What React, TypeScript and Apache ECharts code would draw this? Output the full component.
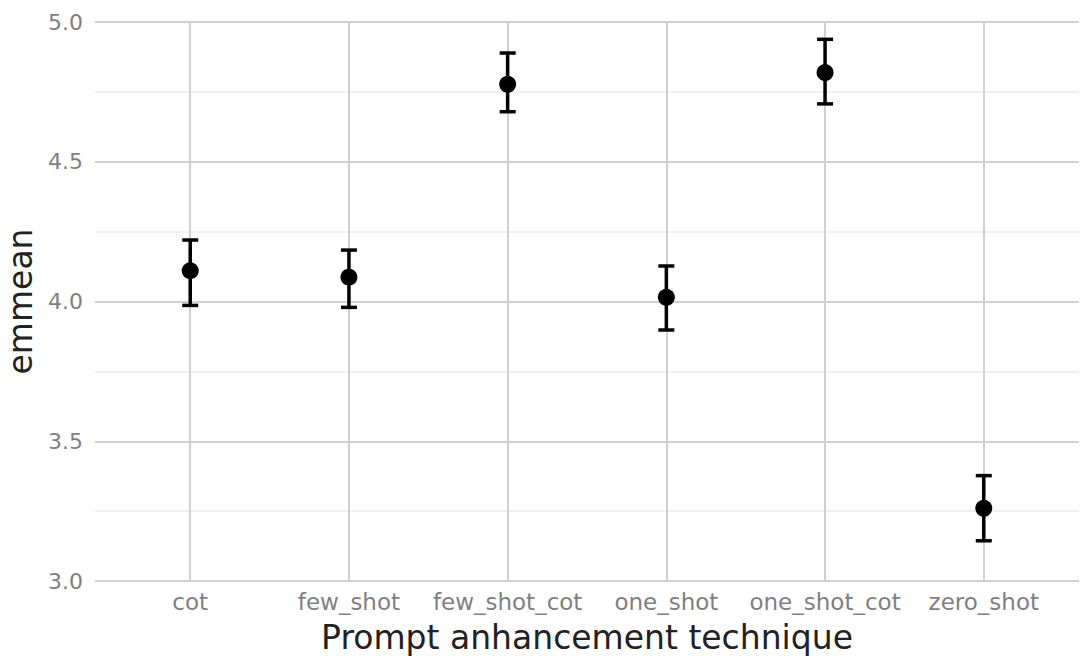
import React, { useEffect, useRef } from "react";
import * as echarts from "echarts";

const categories = ["cot", "few_shot", "few_shot_cot", "one_shot", "one_shot_cot", "zero_shot"];
const emmeans = [4.11, 4.087, 4.777, 4.015, 4.819, 3.26];
const lowerCL = [3.986, 3.979, 4.679, 3.898, 4.707, 3.144];
const upperCL = [4.22, 4.184, 4.889, 4.127, 4.938, 3.377];
const yTicks = [3.0, 3.5, 4.0, 4.5, 5.0];

export default function App() {
  const ref = useRef<HTMLDivElement>(null);
  useEffect(() => {
    if (!ref.current) return;
    const chart = echarts.init(ref.current, null, { renderer: "svg" });
    const idx = categories.map((_, i) => i);
    const font = "DejaVu Sans";
    chart.setOption({
      animation: false,
      backgroundColor: "#ffffff",
      grid: { left: 95, right: 10, top: 22, bottom: 83, containLabel: false, outerBoundsMode: "none" },
      xAxis: {
        type: "value",
        min: -0.6,
        max: 5.6,
        name: "Prompt anhancement technique",
        nameLocation: "middle",
        nameGap: 40,
        nameTextStyle: { fontFamily: font, fontSize: 33, color: "#222222" },
        axisLine: { show: false },
        axisTick: { show: false, customValues: idx },
        axisLabel: {
          customValues: idx,
          formatter: (v: number) => categories[Math.round(v)] ?? "",
          fontFamily: font,
          fontSize: 23,
          color: "#7f7f7f",
          margin: 9,
        },
        splitLine: { show: true, lineStyle: { color: "#d0d0d0", width: 2 } },
      },
      yAxis: {
        type: "value",
        min: 3,
        max: 5,
        interval: 0.5,
        name: "emmean",
        nameLocation: "middle",
        nameGap: 56,
        nameTextStyle: { fontFamily: font, fontSize: 33, color: "#222222" },
        axisLine: { show: false },
        axisTick: { show: false },
        axisLabel: {
          formatter: (v: number) => (yTicks.includes(v) ? v.toFixed(1) : ""),
          fontFamily: font,
          fontSize: 22,
          color: "#7f7f7f",
          margin: 12,
        },
        splitLine: { show: true, lineStyle: { color: "#d0d0d0", width: 2 } },
        minorTick: { show: false, splitNumber: 2 },
        minorSplitLine: { show: true, lineStyle: { color: "#ebebeb", width: 1.5 } },
      },
      series: [
        {
          type: "custom",
          data: idx.map((i) => [i, lowerCL[i], upperCL[i]]),
          encode: { x: 0, y: [1, 2] },
          renderItem: (params: any, api: any) => {
            const x = api.value(0);
            const lo = api.coord([x, api.value(1)]);
            const hi = api.coord([x, api.value(2)]);
            const half = 8;
            const style = { stroke: "#000000", lineWidth: 3.5, fill: "none" };
            return {
              type: "group",
              children: [
                { type: "line", shape: { x1: lo[0], y1: lo[1], x2: hi[0], y2: hi[1] }, style },
                { type: "line", shape: { x1: lo[0] - half, y1: lo[1], x2: lo[0] + half, y2: lo[1] }, style },
                { type: "line", shape: { x1: hi[0] - half, y1: hi[1], x2: hi[0] + half, y2: hi[1] }, style },
              ],
            };
          },
          z: 2,
        },
        {
          type: "scatter",
          data: idx.map((i) => [i, emmeans[i]]),
          symbol: "circle",
          symbolSize: 17,
          itemStyle: { color: "#000000", opacity: 1 },
          z: 3,
        },
      ],
    });
    return () => chart.dispose();
  }, []);
  return (
    <div
      ref={ref}
      style={{ position: "absolute", left: 0, top: 0, width: 1089, height: 664 }}
    />
  );
}
